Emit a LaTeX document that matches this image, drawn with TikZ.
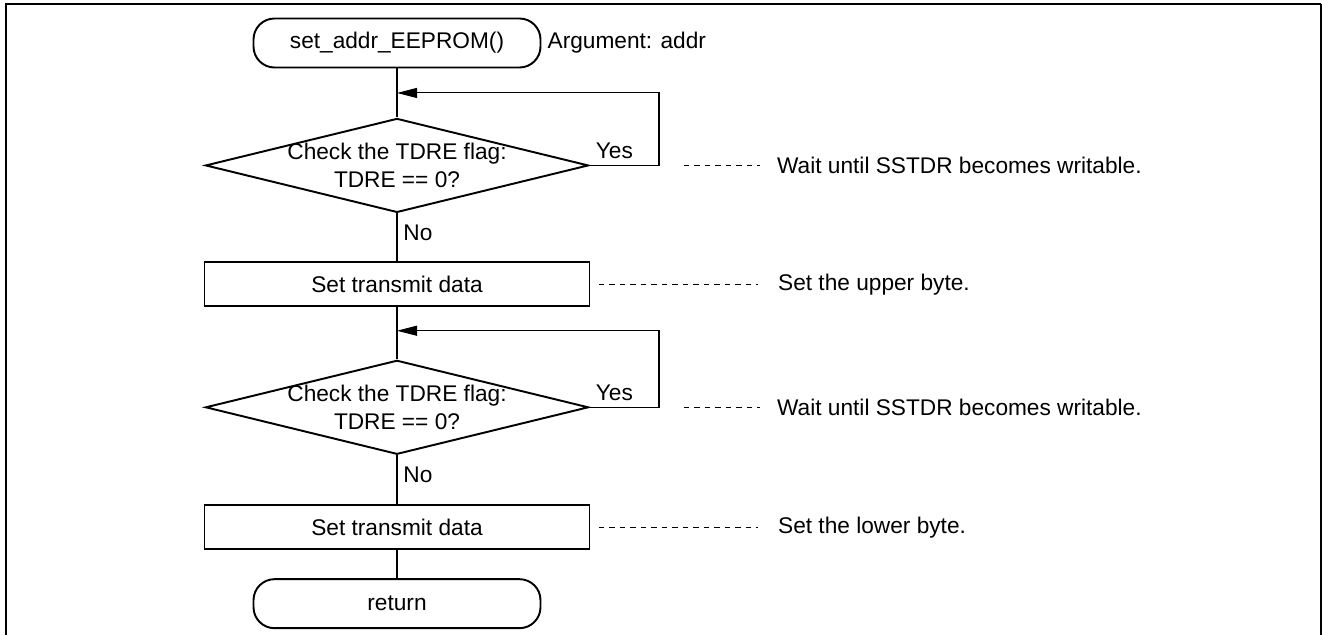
\documentclass[tikz,border=0pt]{standalone}
\usepackage{fontspec}
\setmainfont{Liberation Sans}
\usetikzlibrary{arrows.meta,positioning,shapes.geometric,calc}

\begin{document}
\begin{tikzpicture}[
    font=\fontsize{12.9}{15.9}\selectfont,
    node distance=9.8mm and 10mm,
    terminal/.style={
        draw,
        line width=1.1pt,
        rounded corners=0.42cm,
        minimum width=5.74cm,
        minimum height=0.98cm,
        inner sep=0pt
    },
    process/.style={
        draw,
        line width=1.1pt,
        minimum width=7.7cm,
        minimum height=0.88cm,
        inner sep=0pt
    },
    decision/.style={
        draw,
        diamond,
        line width=1.1pt,
        minimum width=7.66cm,
        minimum height=1.88cm,
        inner sep=0pt
    },
    line/.style={line width=0.6pt},
    loopback/.style={line width=0.6pt, -{Triangle[length=0.4cm, width=0.2cm]}},
    remark/.style={line width=0.6pt, dash pattern=on 0.11cm off 0.1cm}
]

\useasboundingbox (0,0) rectangle (26.44,-12.7);

% ---- Frame ----
\draw[line width=1.1pt] (0.12,-12.7) -- (0.12,-0.08) -- (26.42,-0.08);
\draw[line width=0.6pt] (26.42,-0.08) -- (26.42,-12.7);

% ---- Main column ----
\node[terminal] (start) at (7.94,-0.86) {set\_addr\_EEPROM()};
\node[right=0pt of start] (arg) {Argument: addr};

\node[decision, below=0.98cm of start,
      label={[align=center]center:Check the TDRE flag:\\TDRE == 0?}] (wait1) {};
\node[process, below=0.96cm of wait1] (upper) {Set transmit data};
\node[decision, below=1.04cm of upper,
      label={[align=center]center:Check the TDRE flag:\\TDRE == 0?}] (wait2) {};
\node[process, below=0.98cm of wait2] (lower) {Set transmit data};
\node[terminal, below=0.56cm of lower] (ret) {return};

% ---- Remarks ----
\node[right=3.63cm of wait1] (rem1) {Wait until SSTDR becomes writable.};
\node[right=3.63cm of upper] (rem2) {Set the upper byte.};
\node[right=3.63cm of wait2] (rem3) {Wait until SSTDR becomes writable.};
\node[right=3.63cm of lower] (rem4) {Set the lower byte.};

% ---- Loop points ----
\coordinate (back1) at ($(start.south)!0.5!(wait1.north)$);
\coordinate (back2) at ($(upper.south)!0.45!(wait2.north)$);

% ---- Connections ----
\draw[line] (start) -- (wait1);
\draw[line] (wait1) -- node[right, pos=0.4] {No} (upper);
\draw[line] (upper) -- (wait2);
\draw[line] (wait2) -- node[right, pos=0.4] {No} (lower);
\draw[line] (lower) -- (ret);

\draw[loopback] (wait1.east) -- node[above right, pos=0] {Yes} ++(1.39,0) |- (back1);
\draw[loopback] (wait2.east) -- node[above right, pos=0] {Yes} ++(1.39,0) |- (back2);

\draw[remark] ([xshift=1.89cm]wait1.east) -- ([xshift=-0.21cm]rem1.west);
\draw[remark] ([xshift=0.17cm]upper.east) -- ([xshift=-0.27cm]rem2.west);
\draw[remark] ([xshift=1.89cm]wait2.east) -- ([xshift=-0.21cm]rem3.west);
\draw[remark] ([xshift=0.17cm]lower.east) -- ([xshift=-0.27cm]rem4.west);

\end{tikzpicture}
\end{document}
